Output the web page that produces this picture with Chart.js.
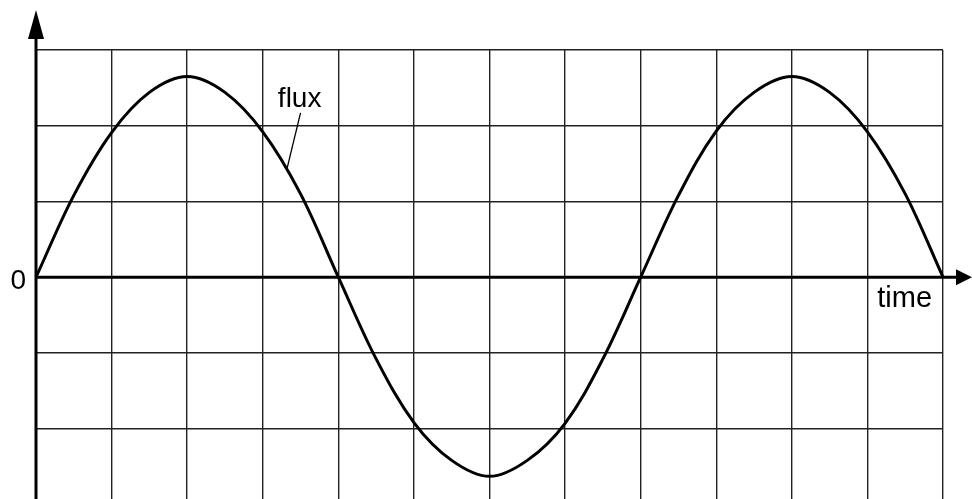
<!DOCTYPE html>
<html>
<head>
<meta charset="utf-8">
<script src="https://cdn.jsdelivr.net/npm/chart.js@4.4.1/dist/chart.umd.min.js"></script>
<style>
  html, body { margin: 0; padding: 0; background: #fff; }
  #wrap { width: 972px; height: 499px; position: relative; }
</style>
</head>
<body>
<div id="wrap"><canvas id="chart"></canvas></div>
<script>
// time in grid squares, flux in grid squares
const times = [0, 0.5, 1, 1.5, 2, 2.5, 3, 3.5, 4, 4.5, 5, 5.5, 6,
  6.5, 7, 7.5, 8, 8.5, 9, 9.5, 10, 10.5, 11, 11.5, 12]
const fluxValues = [0, 1.08, 1.91, 2.44, 2.65, 2.44, 1.92, 1.1, 0, -1.08, -1.92, -2.42, -2.63,
  -2.42, -1.93, -1.08, 0, 1.08, 1.93, 2.44, 2.65, 2.44, 1.92, 1.1, 0]
const xLabel = 'time'
const yZeroLabel = '0'
const curveLabel = 'flux'

const points = times.map((t, i) => ({ x: t, y: fluxValues[i] }))

const axesPlugin = {
  id: 'axes',
  afterDatasetsDraw(c) {
    const ctx = c.ctx
    const xs = c.scales.x
    const ys = c.scales.y
    const x0 = xs.getPixelForValue(0)
    const y0 = ys.getPixelForValue(0)
    ctx.save()
    ctx.strokeStyle = '#000'
    ctx.fillStyle = '#000'
    ctx.lineWidth = 3
    // y axis
    ctx.beginPath()
    ctx.moveTo(x0, c.height)
    ctx.lineTo(x0, 36)
    ctx.stroke()
    ctx.beginPath()
    ctx.moveTo(x0, 10)
    ctx.lineTo(x0 - 8, 39)
    ctx.lineTo(x0 + 8, 39)
    ctx.closePath()
    ctx.fill()
    // x axis
    ctx.beginPath()
    ctx.moveTo(x0, y0)
    ctx.lineTo(c.width - 14, y0)
    ctx.stroke()
    ctx.beginPath()
    ctx.moveTo(c.width, y0)
    ctx.lineTo(c.width - 16, y0 - 8)
    ctx.lineTo(c.width - 16, y0 + 8)
    ctx.closePath()
    ctx.fill()

    // labels
    ctx.font = '28px "Liberation Sans", Arial, sans-serif'
    ctx.textAlign = 'right'
    ctx.textBaseline = 'middle'
    ctx.fillText(yZeroLabel, x0 - 10, y0 + 4)
    ctx.font = '29px "Liberation Sans", Arial, sans-serif'
    ctx.textAlign = 'left'
    ctx.textBaseline = 'alphabetic'
    ctx.fillText(xLabel, xs.getPixelForValue(11.13), y0 + 30)
    ctx.font = '28px "Liberation Sans", Arial, sans-serif'
    ctx.fillText(curveLabel, xs.getPixelForValue(3.2), ys.getPixelForValue(2.25))

    // leader from label to curve
    ctx.lineWidth = 1.3
    ctx.beginPath()
    ctx.moveTo(xs.getPixelForValue(3.5), ys.getPixelForValue(2.17))
    ctx.lineTo(xs.getPixelForValue(3.32), ys.getPixelForValue(1.43))
    ctx.stroke()
    ctx.restore()
  }
}

new Chart(document.querySelector('#chart'), {
  type: 'line',
  data: {
    datasets: [{
      label: curveLabel,
      data: points,
      borderColor: '#000',
      borderWidth: 3,
      pointRadius: 0,
      tension: 0.35,
      fill: false,
      clip: false
    }]
  },
  options: {
    responsive: true,
    maintainAspectRatio: false,
    animation: false,
    layout: { padding: { left: 36, right: 29, top: 50, bottom: 0 } },
    plugins: { legend: { display: false }, tooltip: { enabled: false } },
    scales: {
      x: {
        type: 'linear',
        min: 0,
        max: 12,
        ticks: { display: false, stepSize: 1 },
        grid: { color: '#222', lineWidth: 1.4, drawTicks: false },
        border: { display: false }
      },
      y: {
        type: 'linear',
        min: -2.93,
        max: 3,
        afterBuildTicks: s => { s.ticks = s.ticks.filter(t => Number.isInteger(t.value)) },
        ticks: { display: false, stepSize: 1 },
        grid: { color: '#222', lineWidth: 1.4, drawTicks: false },
        border: { display: false }
      }
    }
  },
  plugins: [axesPlugin]
})
</script>
</body>
</html>
